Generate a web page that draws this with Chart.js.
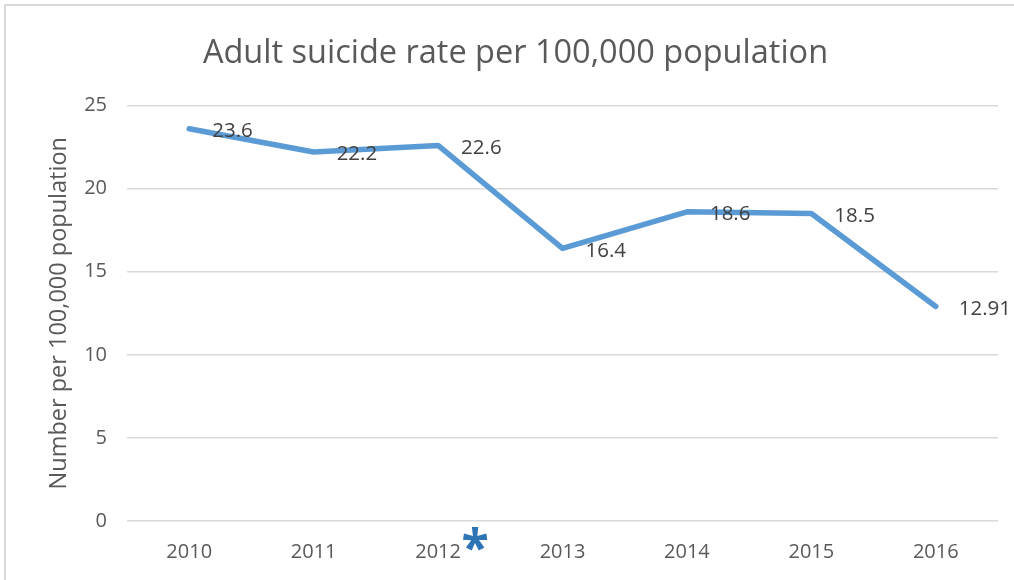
<!DOCTYPE html>
<html>
<head>
<meta charset="utf-8">
<script src="https://cdn.jsdelivr.net/npm/chart.js@4"></script>
<style>
  html, body { margin: 0; padding: 0; background: #fff; }
  #wrap { position: relative; width: 1014px; height: 580px; }
</style>
</head>
<body>
<div id="wrap"><canvas id="c" width="1014" height="580"></canvas></div>
<script>
const titleText = 'Adult suicide rate per 100,000 population';
const yAxisTitle = 'Number per 100,000 population';
const years = ['2010', '2011', '2012', '2013', '2014', '2015', '2016'];
const rates = [23.6, 22.2, 22.6, 16.4, 18.6, 18.5, 12.91];
const rateLabels = ['23.6', '22.2', '22.6', '16.4', '18.6', '18.5', '12.91'];
const yTicks = [0, 5, 10, 15, 20, 25];
const markedYearIndex = 2;
const markText = '*';

const FONT = "'Open Sans', 'Liberation Sans', sans-serif";

const framePlugin = {
  id: 'frame',
  beforeDraw(chart) {
    const ctx = chart.ctx;
    ctx.save();
    ctx.fillStyle = '#ffffff';
    ctx.fillRect(0, 0, chart.width, chart.height);
    ctx.strokeStyle = '#d9d9d9';
    ctx.lineWidth = 2;
    ctx.strokeRect(5, 5, 1200, 800);
    ctx.restore();
  }
};

const valueLabelPlugin = {
  id: 'valueLabels',
  afterDatasetsDraw(chart) {
    const ctx = chart.ctx;
    const meta = chart.getDatasetMeta(0);
    ctx.save();
    ctx.font = '20.5px ' + FONT;
    ctx.fillStyle = '#404040';
    ctx.textAlign = 'left';
    ctx.textBaseline = 'middle';
    meta.data.forEach((pt, i) => {
      ctx.fillText(rateLabels[i], pt.x + 23, pt.y + 2.4);
    });
    ctx.restore();
  }
};

const markPlugin = {
  id: 'mark',
  afterDraw(chart) {
    const ctx = chart.ctx;
    const xs = chart.scales.x;
    const cx = xs.getPixelForValue(markedYearIndex) + 37;
    const cy = chart.chartArea.bottom + 18;
    ctx.save();
    ctx.font = 'bold 50px ' + FONT;
    ctx.fillStyle = '#2e75b6';
    ctx.textAlign = 'center';
    ctx.textBaseline = 'alphabetic';
    const m = ctx.measureText(markText);
    const top = m.actualBoundingBoxAscent, bot = -m.actualBoundingBoxDescent;
    const baseline = cy + (top + bot) / 2;
    ctx.fillText(markText, cx, baseline);
    ctx.restore();
  }
};

new Chart(document.getElementById('c'), {
  type: 'line',
  data: {
    labels: years,
    datasets: [{
      data: rates,
      borderColor: '#5b9bd5',
      backgroundColor: '#5b9bd5',
      borderWidth: 5.5,
      pointRadius: 0,
      pointHoverRadius: 0,
      tension: 0,
      borderCapStyle: 'round',
      borderJoinStyle: 'round',
      fill: false
    }]
  },
  options: {
    responsive: false,
    animation: false,
    events: [],
    layout: { padding: { left: 33, right: 16, top: 0, bottom: 0 } },
    plugins: {
      legend: { display: false },
      tooltip: { enabled: false },
      title: {
        display: true,
        text: titleText,
        color: '#595959',
        font: { family: FONT, size: 32.5, weight: 'normal' },
        padding: { top: 34.2, bottom: 32.3 }
      }
    },
    scales: {
      x: {
        type: 'category',
        offset: true,
        grid: { display: false, drawTicks: false },
        border: { display: false },
        ticks: {
          color: '#595959',
          font: { family: FONT, size: 20 },
          padding: 19,
          maxRotation: 0
        },
        afterFit(scale) { scale.height = 59; }
      },
      y: {
        min: 0,
        max: 25,
        afterBuildTicks(scale) { scale.ticks = yTicks.map(v => ({ value: v })); },
        grid: { color: '#d9d9d9', lineWidth: 1.5, drawTicks: false },
        border: { display: false },
        ticks: {
          color: '#595959',
          font: { family: FONT, size: 20 },
          padding: 20
        },
        title: {
          display: true,
          text: yAxisTitle,
          color: '#595959',
          font: { family: FONT, size: 23.5, weight: 'normal' },
          padding: { top: 12, bottom: 0 }
        },
        afterFit(scale) { scale.width = 94; }
      }
    }
  },
  plugins: [framePlugin, valueLabelPlugin, markPlugin]
});
</script>
</body>
</html>
